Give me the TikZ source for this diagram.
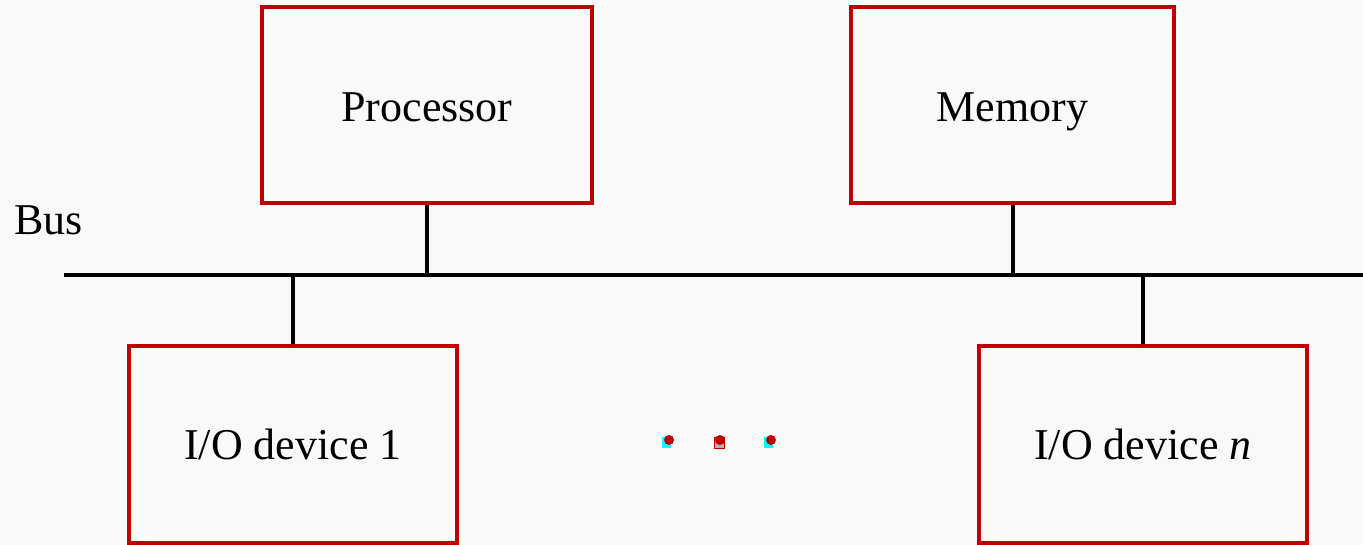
\documentclass[tikz,border=0pt]{standalone}
\usepackage{fontspec}
\setmainfont{Liberation Serif}
\begin{document}
\begin{tikzpicture}[x=1pt,y=-1pt,
  unitbox/.style={draw=boxred, line width=4pt, minimum width=#1, minimum height=196pt, inner sep=0pt, font=\fontsize{44}{50}\selectfont},
  toptext/.style={text height=40pt, text depth=7pt},
  wire/.style={draw=black, line width=4pt},
  label/.style={inner sep=0pt, font=\fontsize{44}{50}\selectfont}]
\definecolor{boxred}{HTML}{C00000}
\definecolor{bg}{HTML}{F9F9F9}
\definecolor{dotcyan}{HTML}{00FFFF}
\fill[bg] (0,0) rectangle (1363,545);
\useasboundingbox (0,0) rectangle (1363,545);
% boxes
\node[unitbox=330pt, toptext] (proc) at (427,105) {Processor};
\node[unitbox=323pt, toptext] (mem) at (1012.5,105.5) {Memory};
\node[unitbox=328pt] (io1) at (293,444.5) {I/O device 1};
\node[unitbox=328pt] (ion) at (1143,444.5) {I/O device \textit{n}};
% bus
\coordinate (busL) at (64,275);
\coordinate (busR) at (1363,275);
\draw[wire] (busL) -- (busR);
\node[label, anchor=base west] (buslabel) at (14,235) {Bus};
% connectors
\draw[wire] (proc.south) -- (proc.south |- busL);
\draw[wire] (mem.south) -- (mem.south |- busL);
\draw[wire] (io1.north) -- (io1.north |- busL);
\draw[wire] (ion.north) -- (ion.north |- busL);
% ellipsis dots
\foreach \x/\c in {668/dotcyan,770/dotcyan}{
  \fill[\c] (\x-6,437) rectangle (\x+3,448);
  \fill[boxred] (\x+1,440) circle (5pt);
}
\filldraw[fill=gray!60, draw=boxred, line width=1pt] (714,437) rectangle (724,448);
\fill[boxred] (720,440) circle (5pt);
\end{tikzpicture}
\end{document}
